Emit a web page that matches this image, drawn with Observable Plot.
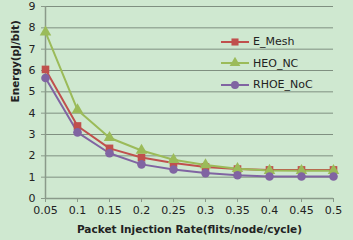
<!DOCTYPE html>
<html><head><meta charset="utf-8">
<script src="https://cdn.jsdelivr.net/npm/d3@7"></script>
<script src="https://cdn.jsdelivr.net/npm/@observablehq/plot@0.6"></script>
<style>
html,body{margin:0;padding:0;background:#cfe8d0;}
#wrap{position:relative;width:353px;height:240px;font-family:"DejaVu Sans",sans-serif;}
#legend{position:absolute;left:220px;top:31px;font-size:11px;color:#222;}
.li{display:flex;align-items:center;height:21.5px;}
.li svg{margin-right:3px;}
</style></head><body>
<div id="wrap"><div id="chart"></div><div id="legend"></div></div>
<script>
const rates = [0.05,0.1,0.15,0.2,0.25,0.3,0.35,0.4,0.45,0.5];
const eMesh = [6.05,3.4,2.35,1.92,1.66,1.48,1.38,1.34,1.34,1.34];
const heoNC = [7.8,4.15,2.85,2.25,1.82,1.57,1.4,1.31,1.3,1.3];
const rhoeNoC = [5.65,3.1,2.12,1.6,1.36,1.19,1.09,1.03,1.03,1.03];
const seriesNames = ["E_Mesh","HEO_NC","RHOE_NoC"];
const colors = ["#c0504d","#9bbb59","#8064a2"];
const symbols = ["square","triangle","circle"];
const yTicks = [0,1,2,3,4,5,6,7,8,9];

const allVals = [eMesh, heoNC, rhoeNoC];
const data = [];
seriesNames.forEach((s,i)=>rates.forEach((r,j)=>data.push({series:s,x:r,y:allVals[i][j]})));

const chart = Plot.plot({
  width:353, height:240,
  marginLeft:45, marginRight:20, marginTop:6, marginBottom:42,
  style:{background:"#cfe8d0", fontFamily:"DejaVu Sans, sans-serif", fontSize:"11px", color:"#222"},
  x:{domain:[0.05,0.5], ticks:rates, tickFormat:d=>String(+d.toFixed(2)), label:null},
  y:{domain:[0,9], ticks:yTicks, label:null},
  color:{domain:seriesNames, range:colors},
  symbol:{domain:seriesNames, range:symbols},
  marks:[
    Plot.gridY(yTicks.filter(d=>d>0),{stroke:"#7f8f80", strokeOpacity:1, strokeWidth:1}),
    Plot.ruleX([0.05],{stroke:"#8a9a8a", strokeWidth:1.5}),
    Plot.ruleY([0],{stroke:"#8a9a8a", strokeWidth:1.5}),
    Plot.axisX({ticks:rates, tickSize:4, tickPadding:4, stroke:"#8a9a8a", tickFormat:d=>String(+d.toFixed(2)), fontSize:11}),
    Plot.axisY({ticks:yTicks, tickSize:4, tickPadding:6, stroke:"#8a9a8a", fontSize:11}),
    Plot.line(data,{x:"x",y:"y",stroke:"series",strokeWidth:2}),
    Plot.dot(data,{x:"x",y:"y",fill:"series",symbol:"series",r:4.3,stroke:"none"}),
    Plot.text(["Packet Injection Rate(flits/node/cycle)"],{frameAnchor:"bottom",dy:34,fontWeight:"bold",fontSize:10.5,fill:"#222"}),
    Plot.text(["Energy(pJ/bit)"],{frameAnchor:"left",dx:-30,rotate:-90,fontWeight:"bold",fontSize:10.5,fill:"#222"})
  ]
});
document.getElementById("chart").appendChild(chart);

const leg = document.getElementById("legend");
seriesNames.forEach((s,i)=>{
  const div = document.createElement("div"); div.className="li";
  const svg = d3.create("svg").attr("width",30).attr("height",12);
  svg.append("line").attr("x1",1).attr("x2",29).attr("y1",6).attr("y2",6).attr("stroke",colors[i]).attr("stroke-width",2);
  svg.append("path").attr("transform","translate(15,6)").attr("d",d3.symbol(symbols[i]==="square"?d3.symbolSquare:symbols[i]==="triangle"?d3.symbolTriangle:d3.symbolCircle,50)()).attr("fill",colors[i]);
  div.appendChild(svg.node());
  const t=document.createElement("span"); t.textContent=s; div.appendChild(t);
  leg.appendChild(div);
});
</script></body></html>
